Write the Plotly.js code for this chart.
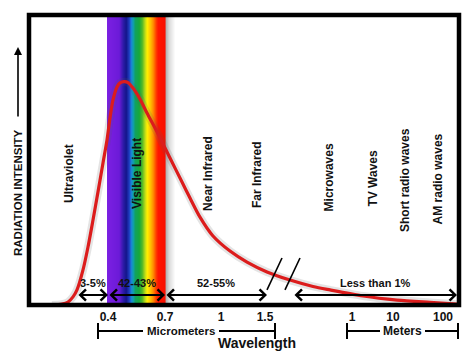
<!DOCTYPE html>
<html>
<head>
<meta charset="utf-8">
<script src="https://cdn.plot.ly/plotly-3.0.1.min.js"></script>
<style>html,body{margin:0;padding:0;background:#fff;}#chart{width:474px;height:352px;}</style>
</head>
<body>
<div id="chart"></div>
<script>
// ---- Data (position along the broken wavelength axis, relative intensity 0..1) ----
const curvePos = [52, 62, 68, 73, 77, 83, 88, 93, 98, 103, 107, 110, 113, 117, 120, 124, 128, 133, 140, 147, 157, 170, 182, 190, 200, 213, 230, 247, 267, 290, 313, 330, 363, 397, 430, 457];
const curveIntensity = [0, 0.003, 0.010, 0.028, 0.052, 0.121, 0.200, 0.293, 0.390, 0.490, 0.569, 0.645, 0.707, 0.752, 0.766, 0.770, 0.767, 0.748, 0.710, 0.662, 0.597, 0.507, 0.424, 0.369, 0.303, 0.238, 0.186, 0.148, 0.114, 0.086, 0.064, 0.052, 0.031, 0.017, 0.009, 0.003];

const tickPos = [108, 165, 221, 265, 352, 393, 443];
const tickLabels = ['0.4', '0.7', '1', '1.5', '1', '10', '100'];

const regionNames = ['Ultraviolet', 'Visible Light', 'Near Infrared', 'Far Infrared', 'Microwaves', 'TV Waves', 'Short radio waves', 'AM radio waves'];
const regionPos = [69, 137, 208, 257, 329, 373, 405, 438];
const regionLabelY = [0.452, 0.452, 0.452, 0.448, 0.44, 0.436, 0.431, 0.433];

const shareLabels = ['3-5%', '42-43%', '52-55%', 'Less than 1%'];
const shareStart = [77, 108, 165, 293];
const shareEnd = [108, 165, 267, 457];

// visible spectrum band colour stops
const bandPos = [107, 119, 123, 126, 129, 131, 133, 135, 139, 142, 145, 147, 150, 153, 156, 158, 165, 165.6, 169, 175];
const bandCol = ['#7b20e2', '#6c1ad8', '#2e1aa8', '#14148a', '#1e3cc0', '#1a80d8', '#10a0b0', '#12a060', '#16a83a', '#50b828', '#c0dc18', '#fff000', '#ffc400', '#ff8c00', '#ff3a00', '#ff1400', '#f81000', '#b0b0b0', '#dadada', '#ffffff'];

// ---- build ----
const X0 = 29, X1 = 459;
const bMin = bandPos[0], bMax = bandPos[bandPos.length - 1];
const colorscale = bandPos.map((p, i) => [(p - bMin) / (bMax - bMin), bandCol[i]]);
const edges = [], centers = [];
for (let p = bMin; p <= bMax + 1e-9; p += 0.5) edges.push(p);
for (let i = 0; i < edges.length - 1; i++) centers.push((edges[i] + edges[i + 1]) / 2);

const traces = [
  {type: 'heatmap', x: edges, y: [0, 1], z: [centers], colorscale: colorscale, zmin: bMin, zmax: bMax,
   showscale: false, hoverinfo: 'skip', zsmooth: false},
  {type: 'scatter', mode: 'lines', x: curvePos, y: curveIntensity, line: {color: 'rgba(90,90,90,0.16)', width: 8, shape: 'spline', smoothing: 0.8}, hoverinfo: 'skip'},
  {type: 'scatter', mode: 'lines', x: curvePos, y: curveIntensity, line: {color: '#dc1c1c', width: 3.2, shape: 'spline', smoothing: 0.8}, hoverinfo: 'skip'}
];

const FONT = 'Liberation Sans, Arial, sans-serif';
const txt = '#111';
const annotations = [];
regionNames.forEach((t, i) => annotations.push({
  x: regionPos[i], y: regionLabelY[i], xref: 'x', yref: 'y', text: t, textangle: -90, showarrow: false,
  xanchor: 'center', yanchor: 'middle',
  font: {family: FONT, size: 12, weight: 'bold', color: txt}
}));
const shareLabelY = 0.076, arrowY = 0.0345;
shareLabels.forEach((t, i) => {
  annotations.push({x: (shareStart[i] + shareEnd[i]) / 2, y: shareLabelY, xref: 'x', yref: 'y', text: t, showarrow: false,
    xanchor: 'center', yanchor: 'middle',
    font: {family: FONT, size: 11, weight: 'bold', color: txt}});
  annotations.push({x: shareEnd[i], y: arrowY, ax: shareStart[i], ay: arrowY, xref: 'x', yref: 'y', axref: 'x', ayref: 'y',
    text: '', showarrow: true, arrowside: 'end+start', arrowhead: 4, startarrowhead: 4, arrowsize: 1.1, startarrowsize: 1.1,
    arrowwidth: 2, arrowcolor: '#000', standoff: 0, startstandoff: 0});
});
const px = v => (v - X0) / (X1 - X0);
const py = v => (305 - v) / 290;
const paperText = (x, y, t, size, angle) => ({x: px(x), y: py(y), xref: 'paper', yref: 'paper', text: t, showarrow: false,
  xanchor: 'center', yanchor: 'middle', textangle: angle || 0, font: {family: FONT, size: size, weight: 'bold', color: txt}});
// y title + arrow
annotations.push(paperText(18, 193, 'RADIATION INTENSITY', 11.5, -90));
annotations.push({x: px(18), y: py(47), xref: 'paper', yref: 'paper', ax: 0, ay: 71, text: '', showarrow: true, arrowhead: 2,
  arrowsize: 1, arrowwidth: 1.6, arrowcolor: '#000', standoff: 0});
// unit brackets text and axis title
annotations.push(paperText(181, 331, 'Micrometers', 11.5));
annotations.push(paperText(402.5, 331, 'Meters', 12));
annotations.push(paperText(257, 343, 'Wavelength', 14));

const shapes = [];
const ln = (x0, y0, x1, y1, w) => ({type: 'line', xref: 'paper', yref: 'paper', x0: px(x0), y0: py(y0), x1: px(x1), y1: py(y1), line: {color: '#000', width: w}});
// micrometers bracket
shapes.push(ln(98, 331, 143, 331, 2), ln(219, 331, 275, 331, 2), ln(98, 323, 98, 339, 2), ln(275, 323, 275, 339, 2));
// meters bracket
shapes.push(ln(347, 331, 380, 331, 2), ln(425, 331, 458, 331, 2), ln(347, 323, 347, 339, 2), ln(458, 323, 458, 339, 2));
// axis break marks
shapes.push({type: 'line', xref: 'x', yref: 'y', x0: 267, y0: 0.052, x1: 282, y1: 0.162, line: {color: '#000', width: 1.6}});
shapes.push({type: 'line', xref: 'x', yref: 'y', x0: 285, y0: 0.052, x1: 300, y1: 0.162, line: {color: '#000', width: 1.6}});
// frame
shapes.push({type: 'rect', xref: 'paper', yref: 'paper', x0: 0, y0: 0, x1: 1, y1: 1, line: {color: '#000', width: 4.5}, layer: 'above'});

const layout = {
  width: 474, height: 352,
  margin: {l: 29, r: 15, t: 15, b: 47},
  paper_bgcolor: '#fff', plot_bgcolor: '#fff',
  showlegend: false,
  xaxis: {range: [X0, X1], showgrid: false, zeroline: false, showline: false, ticks: 'outside', ticklen: 1, tickcolor: 'rgba(0,0,0,0)',
    tickvals: tickPos, ticktext: tickLabels, tickfont: {family: FONT, size: 12, weight: 'bold', color: txt}, fixedrange: true},
  yaxis: {range: [0, 1], showgrid: false, zeroline: false, showline: false, showticklabels: false, ticks: '', fixedrange: true},
  annotations: annotations,
  shapes: shapes
};

Plotly.newPlot('chart', traces, layout, {displayModeBar: false, staticPlot: true});
</script>
</body>
</html>
